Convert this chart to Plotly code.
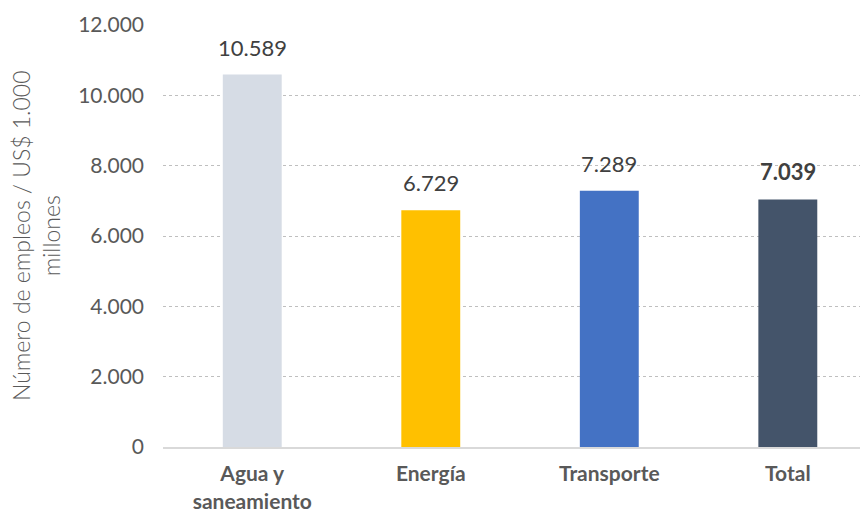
import plotly.graph_objects as go

categories = ["Agua y<br>saneamiento", "Energía", "Transporte", "Total"]
values = [10589, 6729, 7289, 7039]
colors = ["#d6dce5", "#ffc000", "#4472c4", "#44546a"]
bold_flags = [False, False, False, True]
y_ticks = [0, 2000, 4000, 6000, 8000, 10000, 12000]

def fmt(v):
    return f"{v:,.0f}".replace(",", ".")

labels = [f"<b>{fmt(v)}</b>" if b else fmt(v) for v, b in zip(values, bold_flags)]

fig = go.Figure()
fig.add_trace(go.Bar(
    x=categories, y=values, marker=dict(color=colors, line=dict(width=0)),
    width=0.33, hoverinfo="skip",
))

annotations = [dict(
    x=c, y=v, xref="x", yref="y", text=t, showarrow=False,
    xanchor="center", yanchor="bottom", yshift=12,
    font=dict(family="Lato", size=22, color="#404040"),
) for c, v, t in zip(categories, values, labels)]

# page has 8px body margin: offsets compensate
L, T = 155, 17
plot_bottom = 447 - 8
fig.update_layout(
    width=868, height=513,
    margin=dict(l=L, r=0, t=T, b=513 - plot_bottom, autoexpand=False),
    plot_bgcolor="white", paper_bgcolor="white",
    separators=",.",
    showlegend=False,
    font=dict(family="Lato", color="#595959"),
    xaxis=dict(
        range=[-0.5, 3.494], showgrid=False, showline=True, linecolor="#d9d9d9", linewidth=2,
        ticks="", ticklabelstandoff=7,
        tickfont=dict(family="Lato", size=21, color="#595959", weight="bold"),
    ),
    yaxis=dict(
        range=[0, 12000], tickvals=y_ticks, tickformat=",.0f",
        showgrid=True, gridcolor="#bfbfbf", griddash="dot", gridwidth=1,
        zeroline=False, showline=False, ticks="", ticklabelstandoff=18,
        tickfont=dict(family="Lato", size=21, color="#595959"),
    ),
    annotations=annotations + [dict(
        text="Número de empleos / US$ 1.000<br>millones", textangle=-90,
        xref="paper", yref="paper", x=(28 - L) / (868 - L), y=0.5,
        xanchor="center", yanchor="middle", showarrow=False,
        font=dict(family="Lato", size=23, color="#595959", weight=300),
    )],
)

fig.write_html("out.html")
